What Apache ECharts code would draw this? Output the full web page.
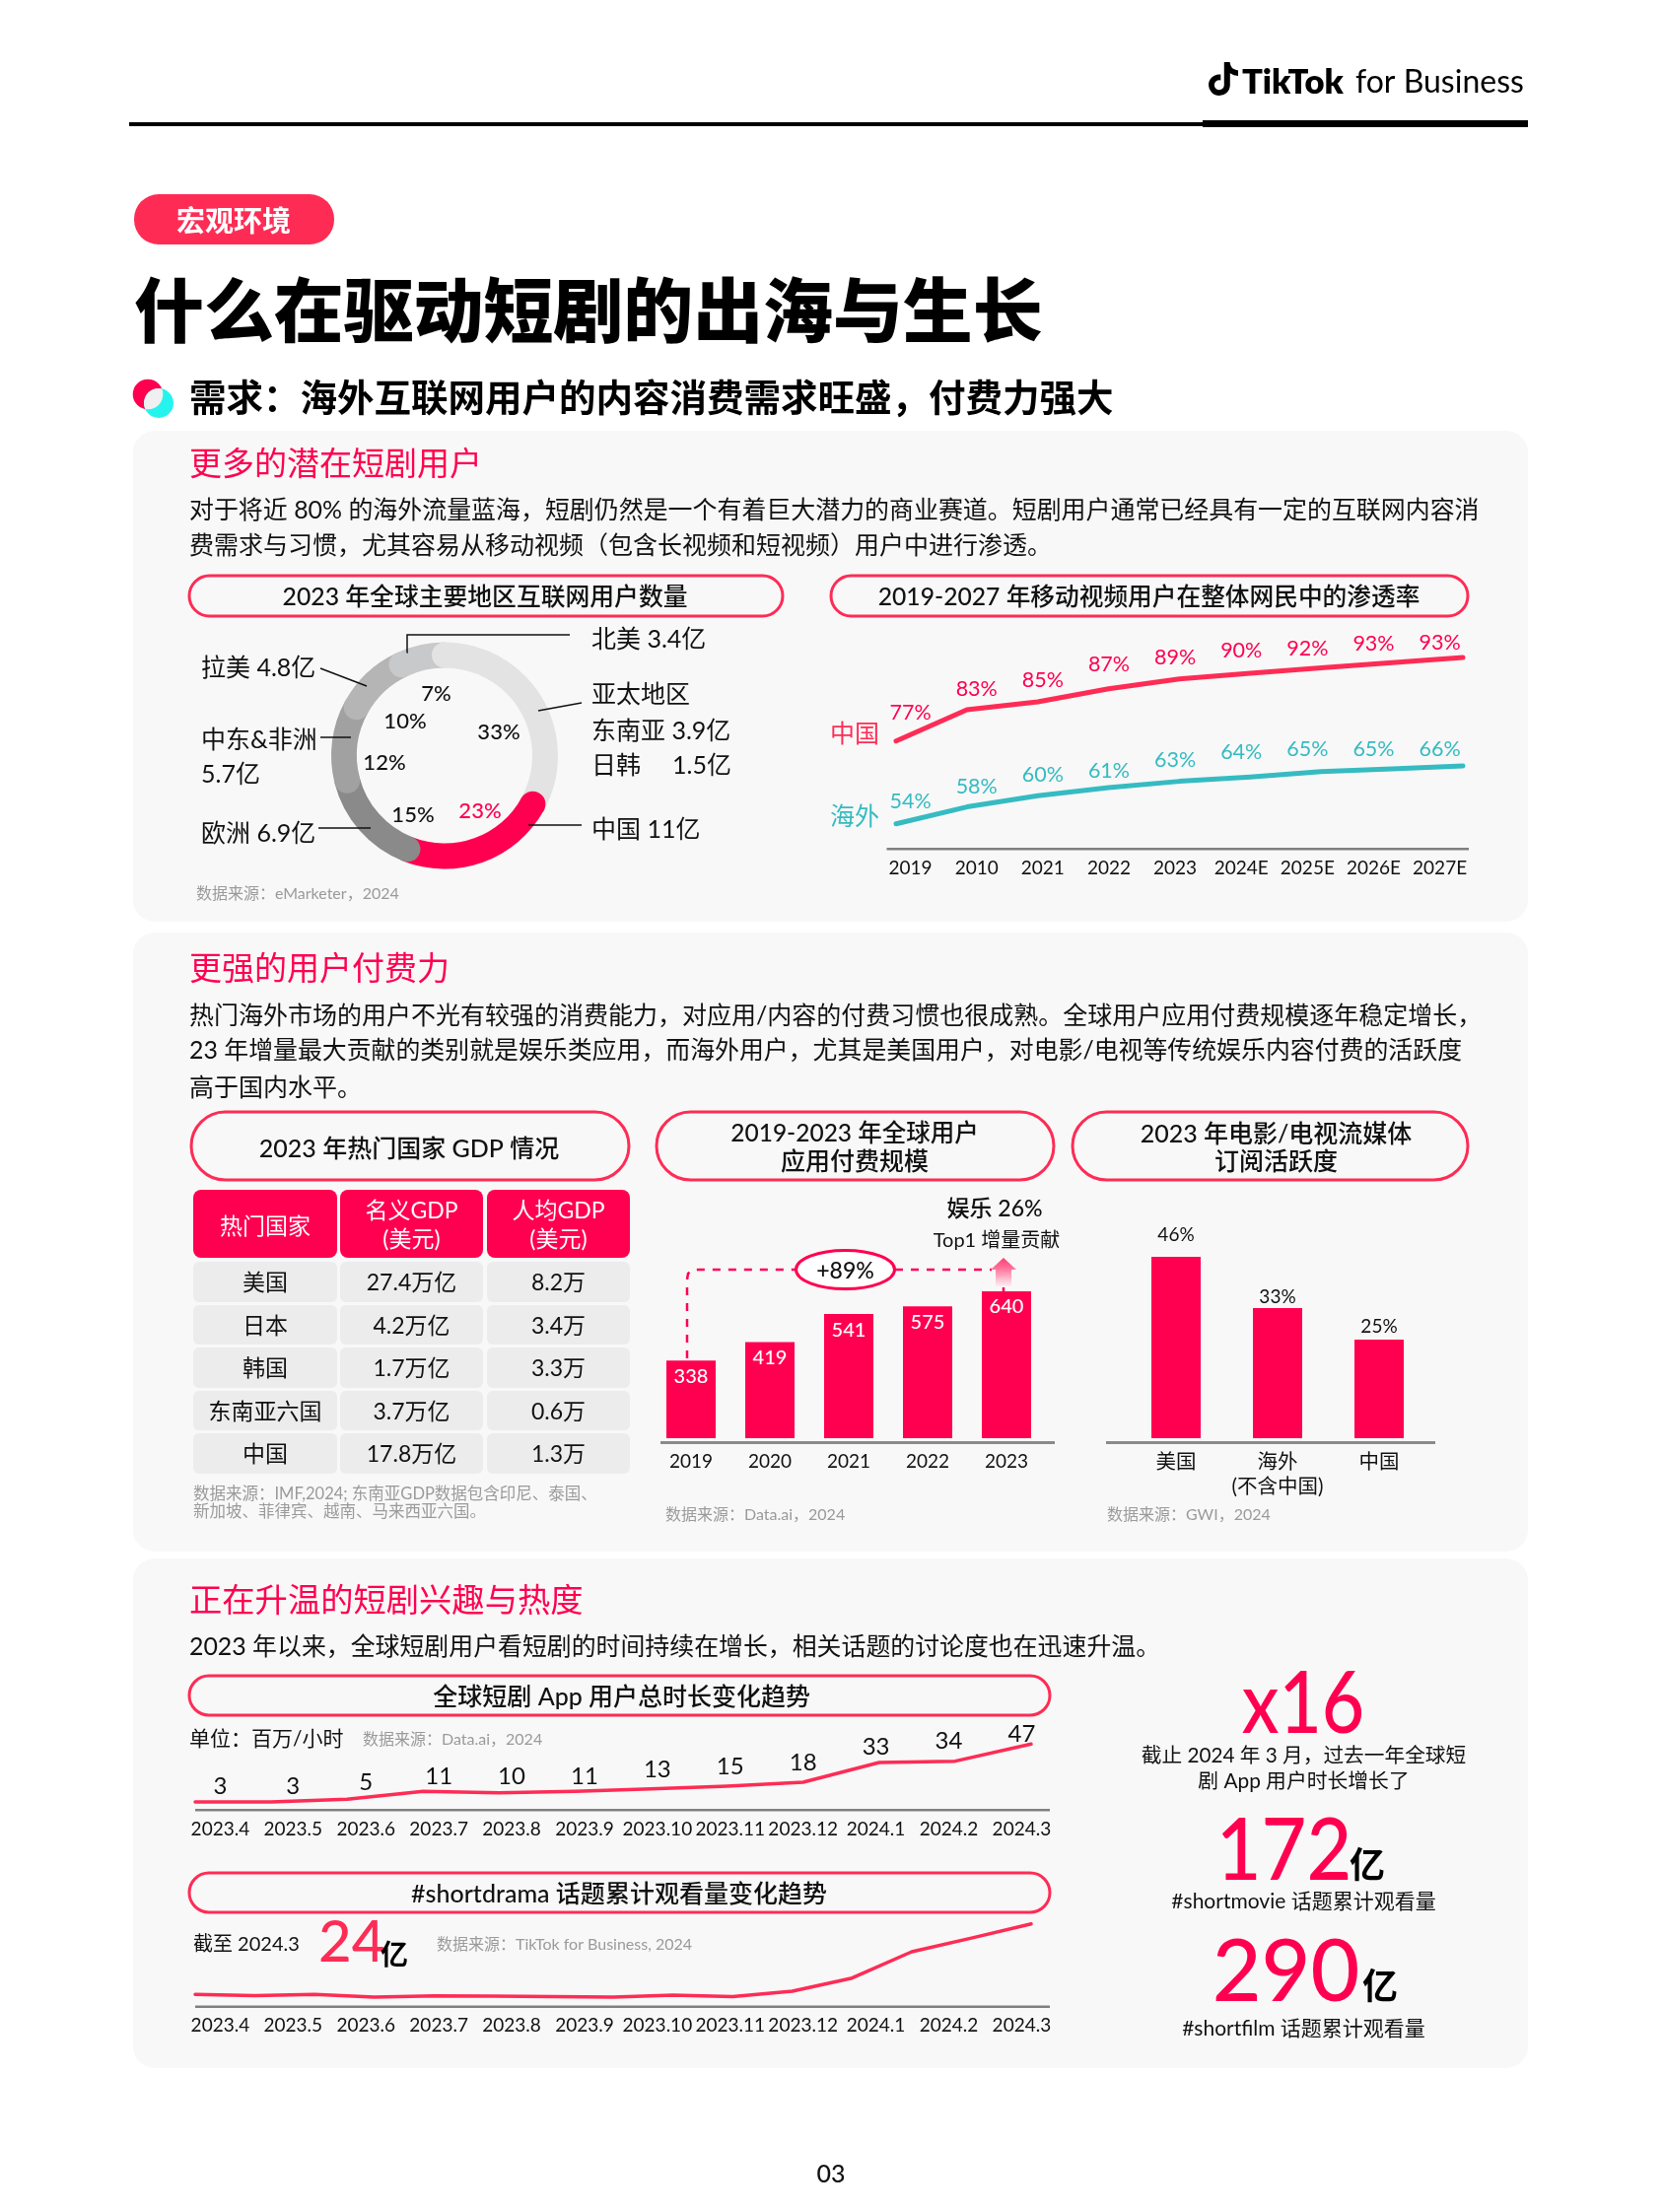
<!DOCTYPE html>
<html><head><meta charset="utf-8">
<style>html,body{margin:0;padding:0;background:#fff}#c{width:1687px;height:2244px}</style>
<script src="https://cdn.jsdelivr.net/npm/echarts@6/dist/echarts.min.js"></script>
</head><body><div id="c"></div>
<script>
// ---------- data ----------
const regionNames  = ['亚太地区','中国','欧洲','中东&非洲','拉美','北美'];
const regionShares = [33,23,15,12,10,7];
const penetrationYears = ['2019','2010','2021','2022','2023','2024E','2025E','2026E','2027E'];
const chinaPenetrationLine    = [77,83,84.5,87,88.9,90,91,92,93];
const chinaPenetrationLabels  = [77,83,85,87,89,90,92,93,93];
const overseasPenetrationLine   = [54,57.5,59.8,61.5,62.8,63.7,64.8,65.4,66];
const overseasPenetrationLabels = [54,58,60,61,63,64,65,65,66];
const gdpColumns   = ['热门国家','名义GDP\n(美元)','人均GDP\n(美元)'];
const gdpCountries = ['美国','日本','韩国','东南亚六国','中国'];
const gdpNominal   = ['27.4万亿','4.2万亿','1.7万亿','3.7万亿','17.8万亿'];
const gdpPerCapita = ['8.2万','3.4万','3.3万','0.6万','1.3万'];
const spendYears  = ['2019','2020','2021','2022','2023'];
const spendValues = [338,419,541,575,640];
const subsCategories = ['美国','海外\n(不含中国)','中国'];
const subsValues     = [46,33,25];
const months = ['2023.4','2023.5','2023.6','2023.7','2023.8','2023.9','2023.10','2023.11','2023.12','2024.1','2024.2','2024.3'];
const appHours = [3,3,5,11,10,11,13,15,18,33,34,47];
const dramaViews = [3.6,3.3,3.6,2.85,3.2,3.1,3.0,2.85,3.4,3.0,4.55,8.35,15.95,19.9,24];

// ---------- style ----------
const FONT = "Lato,'Noto Sans CJK SC','Noto Sans',sans-serif";
const PINK = '#FF0050', ROSE = '#FE2C55', TEAL = '#35BBC1', GREY = '#9A9A9A', PANEL = '#F8F8F8', INK = '#111111';
const regionColors = ['#E3E3E3',PINK,'#8A8A8A','#A1A1A1','#B5B5B5','#C8C9CB'];

function T(x,y,text,size,o){o=o||{};return {type:'text',x:x,y:y+1.5,scaleX:o.sx||1,silent:true,z:o.z||5,style:{text:text,fontSize:size,fontFamily:FONT,
  fontWeight:o.w||'normal',fill:o.c||INK,textAlign:o.a||'left',textVerticalAlign:'middle',align:o.a||'left',verticalAlign:'middle',lineHeight:o.lh}};}
function R(x1,y1,x2,y2,r,fill,o){o=o||{};return {type:'rect',silent:true,z:o.z||1,shape:{x:x1,y:y1,width:x2-x1,height:y2-y1,r:r},style:{fill:fill,stroke:o.s,lineWidth:o.lw}};}
function pill(x1,y1,x2,y2){return R(x1,y1,x2,y2,(y2-y1)/2,PANEL,{s:ROSE,lw:3,z:2});}
function L(pts,o){o=o||{};return {type:'polyline',silent:true,z:o.z||3,shape:{points:pts},style:{stroke:o.c||'#111',lineWidth:o.lw||1.5,fill:'none',lineDash:o.d,lineCap:o.cap||'butt'}};}

const g = [];
// header
g.push(T(1260,82,'TikTok',34.5,{w:800,c:'#000'}),T(1375,82,'for Business',32,{c:'#000'}));
g.push(R(131,124,1220,128,0,'#000'),R(1220,122,1550,129,0,'#000'));
g.push(R(136,197,339,248,25,ROSE),T(237,224.5,'宏观环境',29,{w:700,c:'#fff',a:'center'}));
g.push(T(136,316.5,'什么在驱动短剧的出海与生长',70.9,{w:900,c:'#000'}));
g.push(T(192,403.5,'需求：海外互联网用户的内容消费需求旺盛，付费力强大',37.5,{w:700,c:'#000'}));
g.push({type:'circle',silent:true,z:3,shape:{cx:150,cy:400,r:15.3},style:{fill:PINK}},
       {type:'circle',silent:true,z:3,shape:{cx:161,cy:409,r:15},style:{fill:'#25F4EE'}});
// panels
g.push(R(135,437,1550,935,22,PANEL,{z:0}),R(135,946,1550,1574,22,PANEL,{z:0}),R(135,1581,1550,2098,22,PANEL,{z:0}));

// panel 1
g.push(T(192,470,'更多的潜在短剧用户',33,{c:PINK}));
g.push(T(192,516.5,'对于将近 80% 的海外流量蓝海，短剧仍然是一个有着巨大潜力的商业赛道。短剧用户通常已经具有一定的互联网内容消',24.95));
g.push(T(192,552,'费需求与习惯，尤其容易从移动视频（包含长视频和短视频）用户中进行渗透。',25));
g.push(pill(192,584,794,625),T(492,605,'2023 年全球主要地区互联网用户数量',24.8,{w:500,a:'center'}));
g.push(pill(843,584,1489,625),T(1165.5,605,'2019-2027 年移动视频用户在整体网民中的渗透率',24.7,{w:500,a:'center'}));
// donut leaders and labels
g.push(L([[413,665],[413,644],[578,644]]),L([[325,678],[372,696]]),L([[325,748],[356,748]]),L([[323,840],[376,840]]),L([[590,713],[546,721]]),L([[590,837],[536,837]]));
g.push(T(204,676,'拉美 4.8亿',25),T(204,749,'中东&非洲',25),T(204,784,'5.7亿',25),T(204,844,'欧洲 6.9亿',25));
g.push(T(600,647,'北美 3.4亿',25),T(600,703,'亚太地区',25),T(600,740,'东南亚 3.9亿',25),T(600,775,'日韩',25),T(682,775,'1.5亿',25),T(600,840,'中国 11亿',25));
const pctPos = [[506,741],[487,821],[419,825],[390,772],[411,730],[442.6,702.7]];
regionShares.forEach((v,i)=>g.push(T(pctPos[i][0],pctPos[i][1],v+'%',22,{a:'center',w:500,c:i===1?PINK:INK})));
g.push(T(199,905.5,'数据来源：eMarketer，2024',16,{c:GREY}));
// penetration
g.push(R(899.5,860,1490,862.5,0,'#808080'));
g.push(T(842,743,'中国',25,{c:ROSE}),T(842,827,'海外',25,{c:TEAL}));

// panel 2
g.push(T(192,982,'更强的用户付费力',33,{c:PINK}));
g.push(T(192,1029,'热门海外市场的用户不光有较强的消费能力，对应用/内容的付费习惯也很成熟。全球用户应用付费规模逐年稳定增长，',25));
g.push(T(192,1064.5,'23 年增量最大贡献的类别就是娱乐类应用，而海外用户，尤其是美国用户，对电影/电视等传统娱乐内容付费的活跃度',24.9));
g.push(T(192,1102,'高于国内水平。',25));
g.push(pill(194,1128,638,1197),T(415,1164,'2023 年热门国家 GDP 情况',25,{w:500,a:'center'}));
g.push(pill(666,1128,1069,1197),T(867,1149,'2019-2023 年全球用户',24.5,{w:500,a:'center'}),T(867,1177,'应用付费规模',25,{w:500,a:'center'}));
g.push(pill(1088,1128,1489,1197),T(1294.5,1149,'2023 年电影/电视流媒体',25,{w:500,a:'center'}),T(1294.5,1177,'订阅活跃度',25,{w:500,a:'center'}));
// table
const colX = [[196,342],[345,490],[494,639]];
const rowY = [[1280,1321],[1324,1364],[1367,1408],[1411,1451],[1454,1495]];
gdpColumns.forEach((h,c)=>{
  const cx=(colX[c][0]+colX[c][1])/2;
  g.push(R(colX[c][0],1207,colX[c][1],1276,8,PINK,{z:2}));
  const parts=h.split('\n');
  if(parts.length===1) g.push(T(cx,1243,parts[0],23,{c:'#fff',a:'center'}));
  else g.push(T(cx,1227,parts[0],23,{c:'#fff',a:'center'}),T(cx,1256,parts[1],23,{c:'#fff',a:'center'}));
});
[gdpCountries,gdpNominal,gdpPerCapita].forEach((col,c)=>col.forEach((t,r)=>{
  g.push(R(colX[c][0],rowY[r][0],colX[c][1],rowY[r][1],6,'#ECECEC',{z:2}));
  g.push(T((colX[c][0]+colX[c][1])/2,(rowY[r][0]+rowY[r][1])/2,t,23,{a:'center'}));
}));
g.push(T(196,1514.5,'数据来源：IMF,2024; 东南亚GDP数据包含印尼、泰国、',16.5,{c:GREY}),T(196,1532.5,'新加坡、菲律宾、越南、马来西亚六国。',16.5,{c:GREY}));
// spend annotations
g.push(R(670,1462,1070,1465,0,'#8A8A8A'),R(1122,1462,1456,1465,0,'#8A8A8A'));
g.push(L([[697,1378],[697,1298],[698,1292],[702,1289],[708,1288],[806,1288]],{c:PINK,lw:2.5,d:[8,8]}),L([[908,1288],[1006,1288]],{c:PINK,lw:2.5,d:[8,8]}));
g.push({type:'ellipse',silent:true,z:4,shape:{cx:857.5,cy:1288,rx:50,ry:19.5},style:{fill:'#fff',stroke:PINK,lineWidth:3}});
g.push(T(857.5,1288,'+89%',23,{a:'center',w:500}));
g.push({type:'polygon',silent:true,z:4,shape:{points:[[1018,1276],[1031,1288],[1026,1288],[1026,1305],[1010,1305],[1010,1288],[1005,1288]]},
  style:{fill:{type:'linear',x:0,y:0,x2:0,y2:1,colorStops:[{offset:0,color:'#FF3D75'},{offset:0.35,color:'#FF6F98'},{offset:1,color:'#FFF0F4'}]}}});
g.push(L([[1018,1306],[1018,1311]],{c:PINK,lw:2.5}));
g.push(T(1009,1225,'娱乐 26%',23,{a:'center',w:500}),T(1011,1257.5,'Top1 增量贡献',20,{a:'center'}));
g.push(T(675,1535.5,'数据来源：Data.ai，2024',16,{c:GREY}),T(1123,1535.5,'数据来源：GWI，2024',16,{c:GREY}));

// panel 3
g.push(T(192,1623,'正在升温的短剧兴趣与热度',33.3,{c:PINK}));
g.push(T(192,1669.5,'2023 年以来，全球短剧用户看短剧的时间持续在增长，相关话题的讨论度也在迅速升温。',24.9));
g.push(pill(192,1700,1065,1740),T(630.7,1720,'全球短剧 App 用户总时长变化趋势',25,{w:500,a:'center'}));
g.push(T(192,1763,'单位：百万/小时',21),T(368,1763,'数据来源：Data.ai，2024',16,{c:GREY}));
g.push(R(198,1835,1065,1837.5,0,'#808080'));
g.push(pill(192,1900,1065,1940),T(628,1920,'#shortdrama 话题累计观看量变化趋势',25,{w:500,a:'center'}));
g.push(T(196,1971,'截至 2024.3',20),T(323,1970,'24',58,{c:ROSE,w:500}),T(386,1982,'亿',28,{w:700,c:'#000'}),T(443,1971,'数据来源：TikTok for Business, 2024',16,{c:GREY}));
g.push(R(198,2034.5,1065,2037,0,'#808080'));
// right stats
g.push(T(1322,1729,'x16',86,{c:PINK,a:'center',w:500,sx:0.87}));
g.push(T(1322.5,1780,'截止 2024 年 3 月，过去一年全球短',20.7,{a:'center'}),T(1322.5,1806,'剧 App 用户时长增长了',20.8,{a:'center'}));
g.push(T(1302.5,1878,'172',86,{c:PINK,a:'center',w:500,sx:0.92}),T(1369,1892,'亿',36,{w:700,c:'#000'}));
g.push(T(1322.5,1928,'#shortmovie 话题累计观看量',21,{a:'center'}));
g.push(T(1304.5,2001,'290',86,{c:PINK,a:'center',w:500}),T(1382,2015,'亿',36,{w:700,c:'#000'}));
g.push(T(1322.5,2057,'#shortfilm 话题累计观看量',21,{a:'center'}));
g.push(T(843,2204,'03',25,{a:'center',w:500}));

// ---------- charts ----------
const hiddenX=(gi,cats)=>({type:'category',gridIndex:gi,data:cats,boundaryGap:false,show:false});
const tickX=(gi,cats,size,margin)=>({type:'category',z:10,gridIndex:gi,data:cats,boundaryGap:false,axisLine:{show:false},axisTick:{show:false},
  axisLabel:{interval:0,fontSize:size,margin:margin,color:INK,fontFamily:FONT,hideOverlap:false}});
const bandX=(gi,cats,size,margin)=>({type:'category',z:10,gridIndex:gi,data:cats,axisLine:{show:false},axisTick:{show:false},
  axisLabel:{interval:0,fontSize:size,margin:margin,color:INK,fontFamily:FONT,lineHeight:25}});
const hiddenY=(gi,min,max)=>({type:'value',gridIndex:gi,min:min,max:max,show:false,splitLine:{show:false}});

const penGridA={left:909,width:575,top:630,height:264.5}, penGridB={left:923.6,width:537,top:760,height:101};
const hrsGridA={left:198,width:848,top:1765.3,height:66.7}, hrsGridB={left:223.4,width:813,top:1790,height:46};
const viewGridA={left:198,width:848,top:1930.7,height:105.3}, viewGridB={left:223.4,width:813,top:1990,height:46};

function labelled(vals,labels,gaps,A,B,suffix,color,size,w){
  const n=vals.length, sa=A.width/(n-1), sb=B.width/(n-1);
  return vals.map((v,i)=>({value:v,label:{show:true,position:'inside',color:color,fontSize:size,fontFamily:FONT,fontWeight:w||'normal',
    formatter:labels[i]+suffix,offset:[(B.left+i*sb)-(A.left+i*sa),-gaps[i]]}}));
}
const lineBase={type:'line',silent:true,clip:false,symbol:'circle',symbolSize:1,showSymbol:true,showAllSymbol:true,itemStyle:{color:'transparent'},animation:false,smooth:false,emphasis:{disabled:true}};
const chinaGaps=[29,21,22,25,22,23,20,19,15], seaGaps=[23,21,21,17,22,25,23,20,17], hrsGaps=[16,16,17,15,16,15,19,20,20,16,20,10];
const subsLabelNudge=[-6,5,3];

const LOGO_PATH='M19.59 6.69a4.83 4.83 0 0 1-3.77-4.25V2h-3.45v13.67a2.89 2.89 0 0 1-5.2 1.74 2.89 2.89 0 0 1 2.31-4.64 2.93 2.93 0 0 1 .88.13V9.4a6.84 6.84 0 0 0-1-.05A6.33 6.33 0 0 0 5 20.1a6.34 6.34 0 0 0 10.86-4.43v-7a8.16 8.16 0 0 0 4.77 1.52v-3.4a4.85 4.85 0 0 1-1-.1z';
const LENS_PATH='M164 394.1A15.3 15.3 0 0 1 147 414.9A15 15 0 0 1 164 394.1Z';

const option={
  animation:false, backgroundColor:'#fff', textStyle:{fontFamily:FONT},
  graphic:{elements:g},
  grid:[penGridA,penGridB,{left:661,width:400,top:1272.8,height:186.2},{left:1141.5,width:309,top:1259,height:200},hrsGridA,hrsGridB,viewGridA,viewGridB],
  xAxis:[hiddenX(0,penetrationYears),tickX(1,penetrationYears,19,10),bandX(2,spendYears,19,11),bandX(3,subsCategories,20.5,12),
         hiddenX(4,months),tickX(5,months,19,10.5),hiddenX(6,dramaViews.map((_,i)=>i)),tickX(7,months,19,9.5)],
  yAxis:[hiddenY(0,50,100),hiddenY(0,42,96),hiddenY(1,0,1),hiddenY(2,0,800),hiddenY(3,0,50),hiddenY(4,0,50),hiddenY(5,0,1),hiddenY(6,0,30),hiddenY(7,0,1)],
  series:[
    {type:'custom',name:'logo',coordinateSystem:'none',silent:true,animation:false,z:6,data:[0],
     renderItem:()=>({type:'group',children:[
       {type:'path',shape:{pathData:LOGO_PATH,layout:'cover',x:1226,y:63,width:30,height:34},style:{fill:'#000'}},
       {type:'path',shape:{pathData:LENS_PATH,layout:'cover',x:146,y:394,width:19.3,height:21.3},style:{fill:'#F0F0F0'}}
     ]})},
    {type:'pie',name:'互联网用户',silent:true,z:2,center:[451,766.5],radius:[89,115],startAngle:90,clockwise:true,animation:false,label:{show:false},labelLine:{show:false},emphasis:{disabled:true},
     data:regionNames.map((n,i)=>({name:n,value:regionShares[i],itemStyle:{color:regionColors[i]}}))},
    {type:'custom',name:'caps',coordinateSystem:'none',silent:true,z:3,animation:false,data:regionShares,
     renderItem:(p,api)=>{
       const sum=regionShares.reduce((a,b)=>a+b,0); let acc=0; for(let i=0;i<p.dataIndex;i++) acc+=regionShares[i];
       const a=acc/sum*2*Math.PI;
       return {type:'circle',shape:{cx:451+102*Math.sin(a),cy:766.5-102*Math.cos(a),r:13},style:{fill:regionColors[p.dataIndex]}};
     }},
    Object.assign({},lineBase,{name:'中国',xAxisIndex:0,yAxisIndex:0,z:3,lineStyle:{color:ROSE,width:5,cap:'round',join:'round'},
      data:labelled(chinaPenetrationLine,chinaPenetrationLabels,chinaGaps,penGridA,penGridB,'%',PINK,21.5)}),
    Object.assign({},lineBase,{name:'海外',xAxisIndex:0,yAxisIndex:1,z:3,lineStyle:{color:TEAL,width:5,cap:'round',join:'round'},
      data:labelled(overseasPenetrationLine,overseasPenetrationLabels,seaGaps,penGridA,penGridB,'%',TEAL,21.5)}),
    {type:'bar',name:'应用付费规模',xAxisIndex:2,yAxisIndex:3,silent:true,barWidth:50,itemStyle:{color:PINK},data:spendValues,animation:false,emphasis:{disabled:true},
     label:{show:true,position:'insideTop',distance:6,color:'#fff',fontSize:20,fontWeight:500,fontFamily:FONT}},
    {type:'bar',name:'订阅活跃度',xAxisIndex:3,yAxisIndex:4,silent:true,barWidth:50,itemStyle:{color:PINK},animation:false,emphasis:{disabled:true},
     data:subsValues.map((v,i)=>({value:v,label:{offset:[0,subsLabelNudge[i]]}})),
     label:{show:true,position:'top',distance:7,color:INK,fontSize:19,fontFamily:FONT,formatter:'{c}%'}},
    Object.assign({},lineBase,{name:'用户总时长',xAxisIndex:4,yAxisIndex:5,z:3,lineStyle:{color:ROSE,width:3.5,cap:'round',join:'round'},
      data:labelled(appHours,appHours,hrsGaps,hrsGridA,hrsGridB,'',INK,24)}),
    Object.assign({},lineBase,{name:'#shortdrama',xAxisIndex:6,yAxisIndex:7,z:3,symbol:'none',showSymbol:false,lineStyle:{color:ROSE,width:3.5,cap:'round',join:'round'},data:dramaViews})
  ]
};
echarts.init(document.getElementById('c')).setOption(option);
</script></body></html>
